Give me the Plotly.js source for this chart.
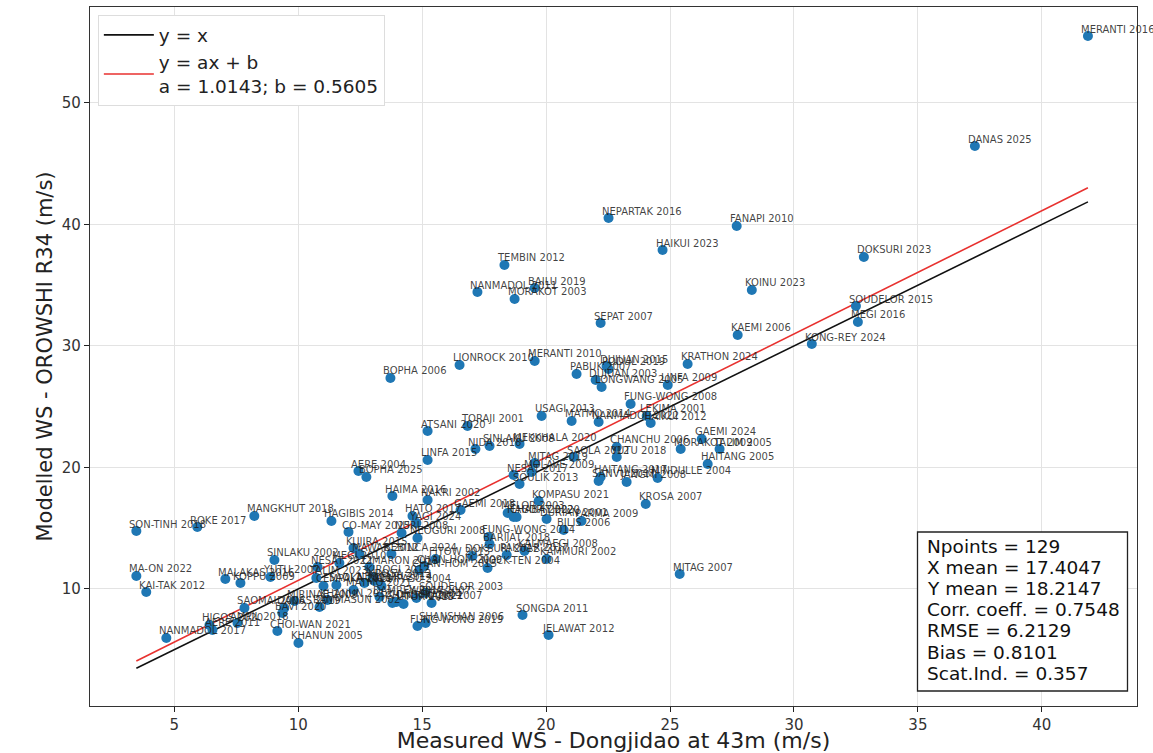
<!DOCTYPE html>
<html>
<head>
<meta charset="utf-8">
<script src="https://cdn.plot.ly/plotly-3.0.1.min.js"></script>
<style>html,body{margin:0;padding:0;background:#fff;}#chart{width:1153px;height:753px;}</style>
</head>
<body>
<div id="chart"></div>
<script>
// Typhoon names (labels)
const names = [
"MERANTI 2016","DANAS 2025","NEPARTAK 2016","FANAPI 2010","HAIKUI 2023","DOKSURI 2023","TEMBIN 2012","BAILU 2019","NANMADOL 2011","MORAKOT 2003",
"KOINU 2023","SOUDELOR 2015","SEPAT 2007","MEGI 2016","KAEMI 2006","KONG-REY 2024","MERANTI 2010","LIONROCK 2010","BOPHA 2006","KRATHON 2024",
"DUJUAN 2015","PODUL 2019","PABUK 2007","DUJUAN 2003","LONGWANG 2005","LINFA 2009","FUNG-WONG 2008","USAGI 2013","MATMO 2014","NANMADOL 2022",
"LEKIMA 2001","HAIKUI 2012","TORAJI 2001","ATSANI 2020","NIDA 2016","SINLAKU 2008","MEKKHALA 2020","LINFA 2015","SAOLA 2012","MITAG 2019",
"NESAT 2017","MOLAVE 2009","SOULIK 2013","CHANCHU 2006","YUTU 2018","GAEMI 2024","MORAKOT 2009","TALIM 2005","HAITANG 2005","HAITANG 2017",
"SANVU 2017","JANGMI 2008","MINDULLE 2004","KROSA 2007","KOMPASU 2021","GAEMI 2018","MELOR 2003","HAGUPIT 2020","CHABA 2022","DURIAN 2001",
"PARMA 2009","BILIS 2006","FUNG-WONG 2014","BARIJAT 2018","KALMAEGI 2008","PAKHAR 2017","KAMMURI 2002","DOKSURI 2012","NOCK-TEN 2004","MITAG 2007",
"SONGDA 2011","JELAWAT 2012","FUNG-WONG 2019","SHANSHAN 2006","KHANUN 2005","CHOI-WAN 2021","NANMADOL 2017","HIGOS 2020","AERE 2011","AMPIL 2018",
"SAOMAI 2006","MA-ON 2022","KAI-TAK 2012","SON-TINH 2018","ROKE 2017","MANGKHUT 2018","HAGIBIS 2014","CO-MAY 2025","MALAKAS 2016","KOPPU 2009",
"SINLAKU 2002","YUTU 2007","AERE 2004","BOPHA 2025","HAIMA 2016","NAKRI 2002","HATO 2017","YAGI 2024","NURI 2008","NEOGURI 2008",
"KUJIRA 2015","MAWAR 2012","CIMARON 2013","BEBINCA 2024","KROSA 2013","FITOW 2013","CHAN-HOM 2015","CHAN-HOM 2009","KOMPASU 2004","CONSON 2004",
"SOUDELOR 2003","UTOR 2013","WIPHA 2007","KAJIKI 2007","NESAT 2022","TALIM 2023","CEMPAKA 2021","SAOLA 2023","MEGI 2010","KIROGI 2012",
"CHANTHU 2021","DAMREY 2017","RAMMASUN 2002","BAVI 2020","DANAS 2019","MIRINAE 2009","KHANUN 2012","NEOGURI 2014","MATMO 2021"
];
// Measured wind speed at Dongjidao 43 m (m/s)
const measured = [
41.86,37.30,22.52,27.69,24.70,32.82,18.32,19.54,17.23,18.73,
28.30,32.50,22.20,32.58,27.73,30.72,19.54,16.51,13.72,25.71,
22.44,22.52,21.23,22.00,22.24,24.91,23.41,19.82,21.03,22.12,
24.06,24.22,16.83,15.22,17.15,17.72,18.93,15.22,21.11,19.54,
18.69,19.41,18.93,22.85,22.85,26.28,25.43,27.00,26.52,22.20,
22.12,23.25,24.50,24.02,19.70,16.55,18.45,18.69,18.81,20.02,
21.43,20.71,17.68,17.72,19.13,18.41,20.02,17.03,17.64,25.39,
19.05,20.10,14.81,15.14,10.01,9.16,4.68,6.42,6.54,7.55,
7.83,3.47,3.87,3.47,5.93,8.23,11.34,12.03,7.06,7.67,
9.04,8.88,12.43,12.75,13.80,15.22,14.61,14.77,14.17,14.81,
12.23,12.47,12.87,13.76,13.08,15.54,14.89,15.09,13.36,13.96,
15.14,14.25,14.77,15.38,10.78,10.73,11.02,11.54,11.66,13.00,
13.80,13.28,10.86,9.36,9.44,9.85,11.18,12.67,12.23
];
// Modelled wind speed OROWSHI R34 (m/s)
const modelled = [
55.51,46.46,40.53,39.88,37.90,37.33,36.67,34.77,34.44,33.87,
34.61,33.29,31.89,31.98,30.91,30.16,28.77,28.44,27.37,28.52,
28.35,28.11,27.70,27.20,26.63,26.79,25.23,24.24,23.83,23.74,
24.24,23.66,23.42,23.00,21.52,21.77,21.93,20.62,20.86,20.37,
19.38,19.63,18.64,21.69,20.86,22.35,21.52,21.52,20.29,19.22,
18.89,18.81,19.14,17.00,17.24,16.50,16.26,15.93,15.93,15.76,
15.60,14.86,14.28,13.70,13.13,12.80,12.47,12.72,11.73,11.23,
7.86,6.21,6.95,7.20,5.56,6.54,5.97,7.04,6.63,7.20,
8.44,11.07,9.75,14.77,15.10,16.01,15.60,14.69,10.82,10.49,
12.39,10.99,19.71,19.22,17.65,17.33,16.01,15.43,14.61,14.20,
13.37,12.88,11.81,12.88,10.66,12.47,11.56,11.89,10.25,8.93,
9.67,8.77,9.26,8.85,11.81,10.91,10.25,10.33,12.14,10.99,
8.85,9.34,8.52,8.02,8.44,9.01,9.09,10.49,9.92
];
// Regression and statistics (as printed on the chart)
const slopeA = 1.0143;
const interceptB = 0.5605;
const statLabels = ["Npoints = 129","X mean = 17.4047","Y mean = 18.2147","Corr. coeff. = 0.7548","RMSE = 6.2129","Bias = 0.8101","Scat.Ind. = 0.357"];
const xTicks = [5,10,15,20,25,30,35,40];
const yTicks = [10,20,30,40,50];

const xMin = Math.min(...measured), xMax = Math.max(...measured);
const lineX = [xMin, xMax];

const traces = [
  {x: lineX, y: lineX, mode: 'lines', name: 'y = x', line: {color: '#111111', width: 1.6}, hoverinfo: 'skip'},
  {x: lineX, y: lineX.map(v => slopeA * v + interceptB), mode: 'lines',
   name: 'y = ax + b<br>a = ' + slopeA.toFixed(4) + '; b = ' + interceptB.toFixed(4),
   line: {color: '#e8312f', width: 1.6}, hoverinfo: 'skip'},
  {x: measured, y: modelled, mode: 'markers', showlegend: false,
   marker: {color: '#1f77b4', size: 10, line: {width: 0}}, text: names, hoverinfo: 'text'}
];

const annotations = names.map((n, i) => ({
  x: measured[i], y: modelled[i], xref: 'x', yref: 'y', text: n, showarrow: false,
  xanchor: 'left', yanchor: 'middle', xshift: -9, yshift: 7,
  font: {family: 'DejaVu Sans', size: 10, color: 'rgba(30,30,30,0.85)'}
}));

// Statistics box: plot area spans 90..1137 px horizontally, 7..706 px vertically
const plotL = 90, plotW = 1047, plotB = 706, plotH = 699;
const px2x = p => (p - plotL) / plotW;
const px2y = p => (plotB - p) / plotH;
statLabels.forEach((s, k) => {
  annotations.push({
    xref: 'paper', yref: 'paper', x: px2x(925), y: px2y(546.5 + 21.1 * k),
    xanchor: 'left', yanchor: 'middle', showarrow: false, text: s,
    font: {family: 'DejaVu Sans', size: 18.5, color: '#111'}
  });
});
const shapes = [{
  type: 'rect', xref: 'paper', yref: 'paper',
  x0: px2x(917.5), x1: px2x(1127.5), y0: px2y(691), y1: px2y(532),
  line: {color: '#222', width: 1.3}, fillcolor: 'white', layer: 'above'
}];

const layout = {
  width: 1153, height: 753,
  margin: {l: 90, r: 16, t: 7, b: 47},
  paper_bgcolor: 'white', plot_bgcolor: 'white',
  font: {family: 'DejaVu Sans', color: '#222'},
  showlegend: true,
  legend: {x: 0.0075, y: 0.988, xanchor: 'left', yanchor: 'top',
           bgcolor: 'white', bordercolor: '#dddddd', borderwidth: 1,
           itemwidth: 50,
           font: {family: 'DejaVu Sans', size: 18.5, color: '#222'}, tracegroupgap: 0},
  xaxis: {range: [1.6, 43.84], tickvals: xTicks, ticks: 'outside', ticklen: 5, tickcolor: '#222',
          showgrid: true, gridcolor: '#e3e3e3', gridwidth: 1, zeroline: false,
          showline: true, linecolor: '#333', linewidth: 1.2, mirror: true,
          tickfont: {family: 'DejaVu Sans', size: 15, color: '#333'},
          title: {text: 'Measured WS - Dongjidao at 43m (m/s)', font: {family: 'DejaVu Sans', size: 22, color: '#222'}, standoff: 5}},
  yaxis: {range: [0.37, 57.9], tickvals: yTicks, ticks: 'outside', ticklen: 5, tickcolor: '#222',
          showgrid: true, gridcolor: '#e3e3e3', gridwidth: 1, zeroline: false,
          showline: true, linecolor: '#333', linewidth: 1.2, mirror: true,
          tickfont: {family: 'DejaVu Sans', size: 15, color: '#333'},
          title: {text: 'Modelled WS - OROWSHI R34 (m/s)', font: {family: 'DejaVu Sans', size: 21, color: '#222'}, standoff: 3}},
  annotations: annotations,
  shapes: shapes
};

Plotly.newPlot('chart', traces, layout, {displayModeBar: false, responsive: false});
</script>
</body>
</html>
